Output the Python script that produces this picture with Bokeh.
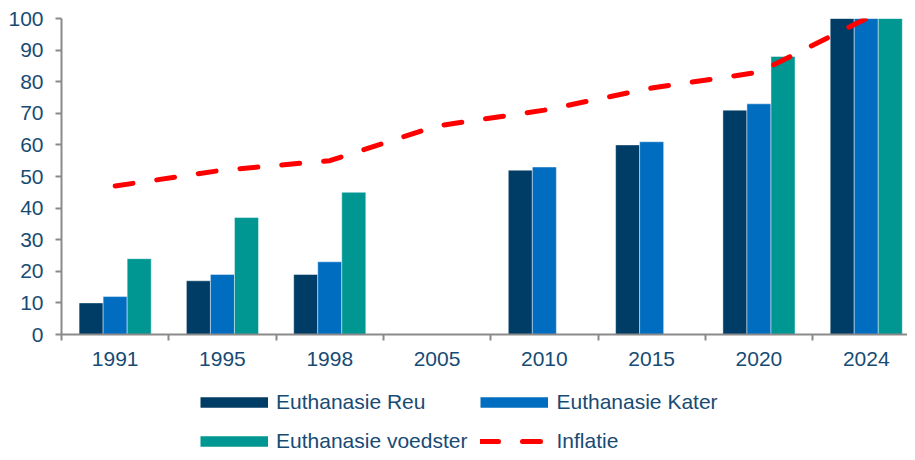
from bokeh.plotting import figure
from bokeh.models import Range1d, FixedTicker, Legend, LegendItem, ColumnDataSource
from bokeh.layouts import column
from bokeh.transform import dodge
from bokeh.embed import file_html
from bokeh.resources import INLINE

years = ["1991", "1995", "1998", "2005", "2010", "2015", "2020", "2024"]
reu = [10, 17, 19, float("nan"), 52, 60, 71, 100]
kater = [12, 19, 23, float("nan"), 53, 61, 73, 100]
voedster = [24, 37, 45, float("nan"), float("nan"), float("nan"), 88, 100]
inflatie = [47, 52, 55, 66, 71, 78, 83, 100]
y_ticks = [0, 10, 20, 30, 40, 50, 60, 70, 80, 90, 100]
labels = ["Euthanasie Reu", "Euthanasie Kater", "Euthanasie voedster", "Inflatie"]

C_REU = "#003D66"
C_KATER = "#006DC0"
C_VOED = "#009792"
C_INFL = "#FF0000"
TXT = "#174B74"
AXC = "#8A8A8A"
FONT = "Liberation Sans"

n = len(years)
centers = [i + 0.5 for i in range(n)]
bw = 0.224

src = ColumnDataSource(dict(
    x=centers,
    reu=reu, kater=kater, voedster=voedster, inflatie=inflatie,
))

W = 907
H1, H2 = 378, 74
LEFT, TOP, BOTTOM = 61, 18, 44
cat_px = 107.3
p = figure(width=W, height=H1, output_backend="svg", toolbar_location=None,
           x_range=Range1d(0, (W - LEFT) / cat_px), y_range=Range1d(0, 100),
           min_border_left=LEFT, min_border_right=0, min_border_top=TOP,
           min_border_bottom=BOTTOM)
p.outline_line_color = None
p.grid.visible = False
p.background_fill_color = "white"
p.border_fill_color = "white"

bar_kw = dict(width=bw, source=src, line_color="white", line_alpha=0.45, line_width=1)
p.vbar(x=dodge("x", -bw), top="reu", fill_color=C_REU, **bar_kw)
p.vbar(x=dodge("x", 0), top="kater", fill_color=C_KATER, **bar_kw)
p.vbar(x=dodge("x", bw), top="voedster", fill_color=C_VOED, **bar_kw)

line_kw = dict(line_color=C_INFL, line_width=5, line_dash="18 24",
               line_cap="round", line_join="round")
p.line(x="x", y="inflatie", source=src, **line_kw)

# axes
xa = p.xaxis[0]
xa.ticker = FixedTicker(ticks=centers, minor_ticks=list(range(n + 1)))
xa.major_label_overrides = {c: y for c, y in zip(centers, years)}
xa.major_tick_line_color = None
xa.major_tick_out = 0
xa.major_tick_in = 0
xa.minor_tick_line_color = AXC
xa.minor_tick_line_width = 2
xa.minor_tick_out = 6
xa.minor_tick_in = 0
xa.axis_line_color = AXC
xa.axis_line_width = 2
xa.major_label_text_font = FONT
xa.major_label_text_font_size = "21px"
xa.major_label_text_color = TXT
xa.major_label_standoff = 11

ya = p.yaxis[0]
ya.ticker = FixedTicker(ticks=y_ticks)
ya.minor_tick_line_color = None
ya.major_tick_line_color = AXC
ya.major_tick_line_width = 2
ya.major_tick_out = 6
ya.major_tick_in = 0
ya.axis_line_color = AXC
ya.axis_line_width = 2
ya.major_label_text_font = FONT
ya.major_label_text_font_size = "21px"
ya.major_label_text_color = TXT
ya.major_label_standoff = 12

# legend figure (renderers hidden; only their legend glyphs are shown)
q = figure(width=W, height=H2, output_backend="svg", toolbar_location=None,
           x_range=Range1d(0, 1), y_range=Range1d(0, 1),
           x_axis_location=None, y_axis_location=None, min_border=0)
q.outline_line_color = None
q.grid.visible = False
q.border_fill_color = "white"

sw_kw = dict(x="x", source=src, line_width=10.5, line_cap="butt", visible=False)
sw_reu = q.line(y="reu", line_color=C_REU, **sw_kw)
sw_kat = q.line(y="kater", line_color=C_KATER, **sw_kw)
sw_voe = q.line(y="voedster", line_color=C_VOED, **sw_kw)
sw_inf = q.line(x="x", y="inflatie", source=src, visible=False, **line_kw)

legend = Legend(items=[
    LegendItem(label=labels[0], renderers=[sw_reu]),
    LegendItem(label=labels[1], renderers=[sw_kat]),
    LegendItem(label=labels[2], renderers=[sw_voe]),
    LegendItem(label=labels[3], renderers=[sw_inf]),
], location=(139, -2), orientation="horizontal", ncols=2,
    glyph_width=68, glyph_height=26, label_height=26, spacing=13,
    label_standoff=8, padding=0, margin=0,
    border_line_alpha=0, background_fill_alpha=0,
    inactive_fill_alpha=0,
    label_text_font=FONT, label_text_font_size="21px", label_text_color=TXT)
q.add_layout(legend, "center")

layout = column(p, q, spacing=0)
open("out.html", "w").write(file_html(layout, INLINE))
